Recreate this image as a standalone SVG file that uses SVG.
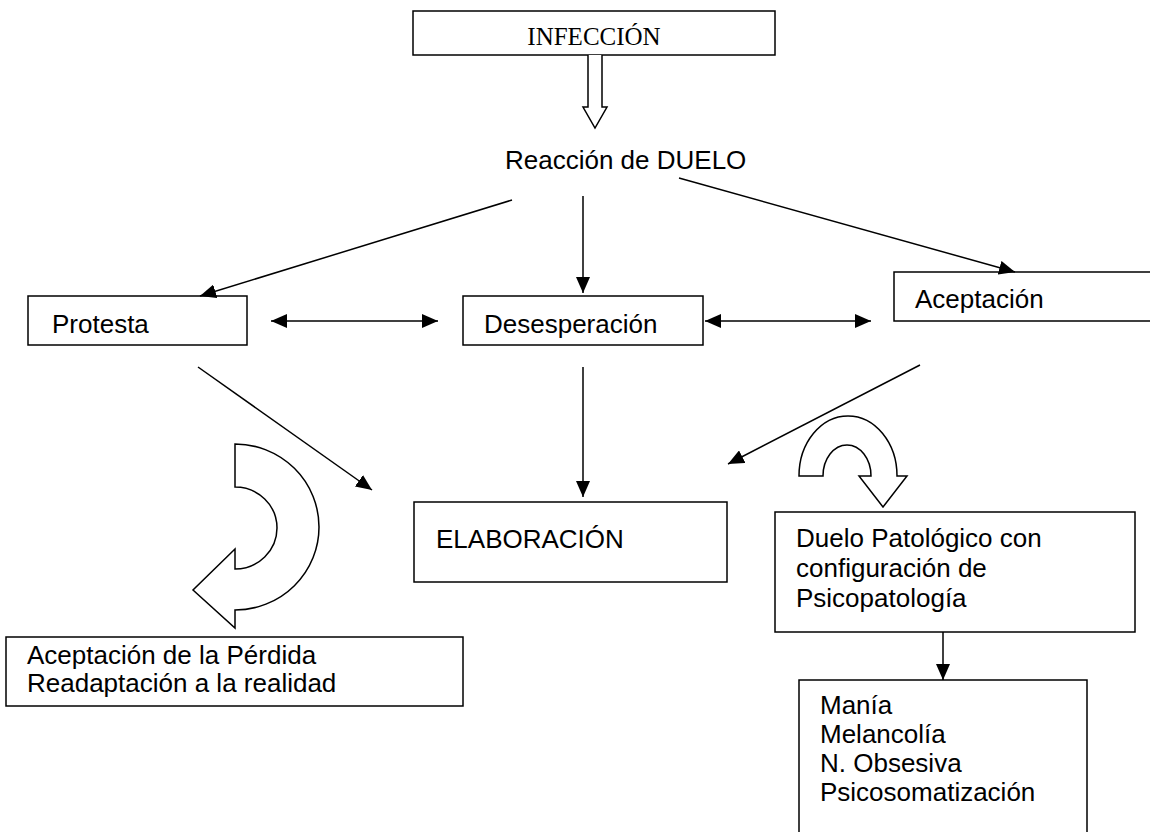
<svg xmlns="http://www.w3.org/2000/svg" width="1150" height="832" viewBox="0 0 1150 832">
<style>
.box{fill:#fff;stroke:#000;stroke-width:1.5}
.open{fill:none;stroke:#000;stroke-width:1.5}
.t{font-family:"Liberation Sans",Arial,sans-serif;font-size:26px;fill:#000}
.ts{font-family:"Liberation Serif","Times New Roman",serif;font-size:25px;fill:#000}
.ln{stroke:#000;stroke-width:1.5;fill:none}
.blk{fill:#fff;stroke:#000;stroke-width:1.5;stroke-linejoin:miter}
</style>
<defs>
<marker id="ah" markerUnits="userSpaceOnUse" markerWidth="17" markerHeight="14" refX="16" refY="7" orient="auto-start-reverse">
<path d="M0,0 L16,7 L0,14 z" fill="#000"/>
</marker>
</defs>
<rect width="1150" height="832" fill="#fff"/>

<g id="infeccion">
<rect class="box" x="413" y="11" width="362" height="44"/>
<text class="ts" x="594" y="45" text-anchor="middle">INFECCIÓN</text>
</g>

<g id="reaccion">
<text class="t" x="505" y="169">Reacción de DUELO</text>
</g>

<g id="protesta">
<rect class="box" x="28" y="296" width="219" height="49"/>
<text class="t" x="52" y="333">Protesta</text>
</g>

<g id="desesperacion">
<rect class="box" x="463" y="296" width="240" height="49"/>
<text class="t" x="484" y="333">Desesperación</text>
</g>

<g id="aceptacion">
<path class="open" d="M1152,272 H894 V321 H1152"/>
<text class="t" x="915" y="308">Aceptación</text>
</g>

<g id="elaboracion">
<rect class="box" x="414" y="502" width="313" height="80"/>
<text class="t" x="436" y="548">ELABORACIÓN</text>
</g>

<g id="aceptacion-perdida">
<rect class="box" x="6" y="637" width="457" height="69"/>
<text class="t" x="27" y="664">Aceptación de la Pérdida</text>
<text class="t" x="27" y="692">Readaptación a la realidad</text>
</g>

<g id="duelo-patologico">
<rect class="box" x="775" y="512" width="360" height="120"/>
<text class="t" x="796" y="547">Duelo Patológico con</text>
<text class="t" x="796" y="577">configuración de</text>
<text class="t" x="796" y="607">Psicopatología</text>
</g>

<g id="psicopatologias">
<path class="open" d="M799,840 V680 H1087 V840"/>
<text class="t" x="820" y="714">Manía</text>
<text class="t" x="820" y="743">Melancolía</text>
<text class="t" x="820" y="772">N. Obsesiva</text>
<text class="t" x="820" y="801">Psicosomatización</text>
</g>

<g id="connectors">
<path class="blk" d="M588,55 V107 H583 L595,128 L607,107 H602 V55"/>
<line class="ln" x1="512" y1="200" x2="200" y2="296" marker-end="url(#ah)"/>
<line class="ln" x1="583" y1="196" x2="583" y2="293" marker-end="url(#ah)"/>
<line class="ln" x1="679" y1="178" x2="1015" y2="272" marker-end="url(#ah)"/>
<line class="ln" x1="271" y1="321" x2="438" y2="321" marker-start="url(#ah)" marker-end="url(#ah)"/>
<line class="ln" x1="705" y1="321" x2="871" y2="321" marker-start="url(#ah)" marker-end="url(#ah)"/>
<line class="ln" x1="198" y1="367" x2="372" y2="490" marker-end="url(#ah)"/>
<line class="ln" x1="583" y1="367" x2="583" y2="497" marker-end="url(#ah)"/>
<line class="ln" x1="920" y1="365" x2="728" y2="464" marker-end="url(#ah)"/>
<line class="ln" x1="943" y1="632" x2="943" y2="680" marker-end="url(#ah)"/>
<path class="blk" d="M235,444 A84,83 0 0 1 235,610 L235,628 L193,590 L235,549 L235,569 A42,41 0 0 0 235,487 Z"/>
<path class="blk" d="M799,476 A49,60 0 0 1 897,476 L907,476 L883,507 L859,476 L871,476 A24,31 0 0 0 823,476 Z"/>
</g>
</svg>
